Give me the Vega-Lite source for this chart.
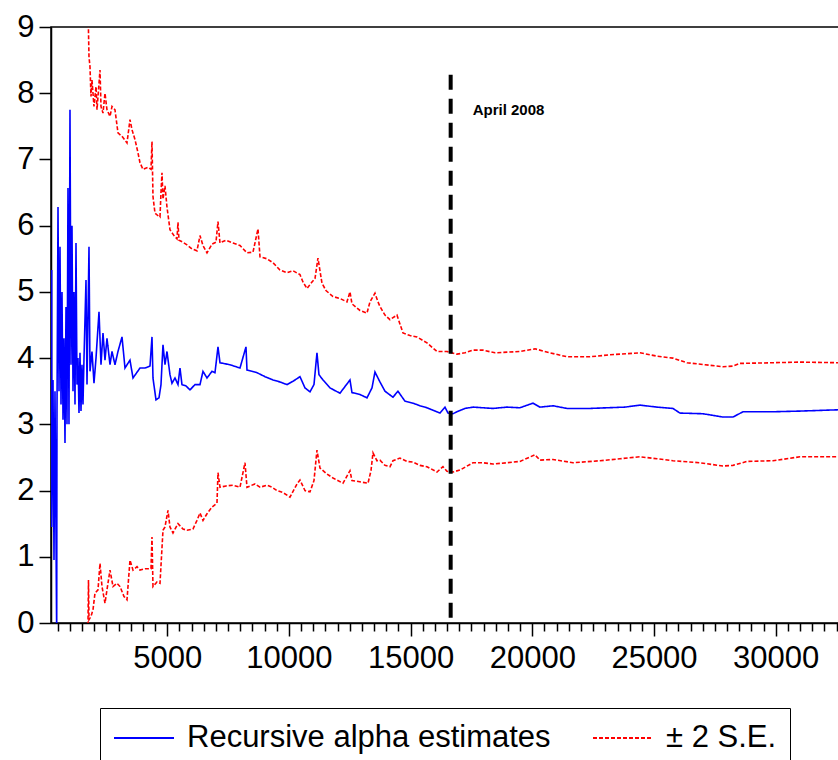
{
  "$schema": "https://vega.github.io/schema/vega-lite/v6.json",
  "width": 788,
  "height": 596,
  "autosize": {"type": "none"},
  "padding": {"left": 51, "top": 27, "right": 0, "bottom": 137},
  "background": "white",
  "datasets": {
    "alpha": [
      {"obs": 255, "value": 5.33}, {"obs": 256, "value": 1.45}, {"obs": 308, "value": 3.67}, {"obs": 349, "value": 0.95},
      {"obs": 390, "value": 3.5}, {"obs": 460, "value": -0.2}, {"obs": 472, "value": 3.2}, {"obs": 514, "value": 6.28},
      {"obs": 555, "value": 3.5}, {"obs": 596, "value": 5.68}, {"obs": 637, "value": 3.3}, {"obs": 678, "value": 5.0},
      {"obs": 719, "value": 3.07}, {"obs": 760, "value": 4.3}, {"obs": 801, "value": 2.72}, {"obs": 842, "value": 4.77},
      {"obs": 883, "value": 3.0}, {"obs": 924, "value": 6.57}, {"obs": 965, "value": 3.0}, {"obs": 1006, "value": 7.75},
      {"obs": 1047, "value": 3.9}, {"obs": 1089, "value": 6.0}, {"obs": 1130, "value": 3.5}, {"obs": 1171, "value": 5.0},
      {"obs": 1212, "value": 3.3}, {"obs": 1253, "value": 5.74}, {"obs": 1294, "value": 3.6}, {"obs": 1335, "value": 4.0},
      {"obs": 1376, "value": 3.17}, {"obs": 1417, "value": 4.08}, {"obs": 1458, "value": 3.2}, {"obs": 1499, "value": 3.9},
      {"obs": 1540, "value": 3.3}, {"obs": 1582, "value": 4.0}, {"obs": 1664, "value": 5.18}, {"obs": 1705, "value": 3.6},
      {"obs": 1787, "value": 5.68}, {"obs": 1828, "value": 3.8}, {"obs": 1910, "value": 4.1}, {"obs": 1992, "value": 3.62},
      {"obs": 2075, "value": 4.0}, {"obs": 2198, "value": 4.7}, {"obs": 2280, "value": 3.9}, {"obs": 2362, "value": 4.38},
      {"obs": 2444, "value": 3.97}, {"obs": 2526, "value": 4.3}, {"obs": 2650, "value": 3.9}, {"obs": 2732, "value": 4.1},
      {"obs": 2855, "value": 3.9}, {"obs": 2978, "value": 4.1}, {"obs": 3143, "value": 4.32}, {"obs": 3266, "value": 3.85},
      {"obs": 3471, "value": 3.97}, {"obs": 3595, "value": 3.7}, {"obs": 3882, "value": 3.85}, {"obs": 4087, "value": 3.85},
      {"obs": 4293, "value": 3.88}, {"obs": 4375, "value": 4.32}, {"obs": 4416, "value": 3.7}, {"obs": 4539, "value": 3.37},
      {"obs": 4663, "value": 3.4}, {"obs": 4745, "value": 3.6}, {"obs": 4827, "value": 4.2}, {"obs": 4909, "value": 3.9},
      {"obs": 4991, "value": 4.1}, {"obs": 5114, "value": 3.75}, {"obs": 5197, "value": 3.62}, {"obs": 5320, "value": 3.7},
      {"obs": 5443, "value": 3.6}, {"obs": 5525, "value": 3.85}, {"obs": 5607, "value": 3.6}, {"obs": 5772, "value": 3.58},
      {"obs": 5936, "value": 3.52}, {"obs": 6141, "value": 3.6}, {"obs": 6347, "value": 3.6}, {"obs": 6470, "value": 3.8},
      {"obs": 6635, "value": 3.7}, {"obs": 6840, "value": 3.8}, {"obs": 6963, "value": 3.78}, {"obs": 7087, "value": 4.17},
      {"obs": 7168, "value": 3.93}, {"obs": 7579, "value": 3.9}, {"obs": 7990, "value": 3.85}, {"obs": 8237, "value": 4.17},
      {"obs": 8278, "value": 3.82}, {"obs": 8689, "value": 3.78}, {"obs": 9017, "value": 3.72}, {"obs": 9346, "value": 3.67},
      {"obs": 9634, "value": 3.64}, {"obs": 9921, "value": 3.6}, {"obs": 10168, "value": 3.65}, {"obs": 10455, "value": 3.72},
      {"obs": 10661, "value": 3.55}, {"obs": 10866, "value": 3.49}, {"obs": 11030, "value": 3.6}, {"obs": 11153, "value": 4.08},
      {"obs": 11235, "value": 3.75}, {"obs": 11400, "value": 3.67}, {"obs": 11687, "value": 3.55}, {"obs": 12098, "value": 3.47},
      {"obs": 12509, "value": 3.67}, {"obs": 12591, "value": 3.48}, {"obs": 12920, "value": 3.45}, {"obs": 13208, "value": 3.4},
      {"obs": 13413, "value": 3.55}, {"obs": 13536, "value": 3.79}, {"obs": 13741, "value": 3.64}, {"obs": 13947, "value": 3.5},
      {"obs": 14275, "value": 3.41}, {"obs": 14480, "value": 3.5}, {"obs": 14768, "value": 3.35}, {"obs": 15097, "value": 3.32},
      {"obs": 15384, "value": 3.28}, {"obs": 15672, "value": 3.25}, {"obs": 16001, "value": 3.2}, {"obs": 16206, "value": 3.17},
      {"obs": 16412, "value": 3.26}, {"obs": 16535, "value": 3.17}, {"obs": 16740, "value": 3.16}, {"obs": 16905, "value": 3.19},
      {"obs": 17234, "value": 3.24}, {"obs": 17562, "value": 3.26}, {"obs": 17973, "value": 3.25}, {"obs": 18384, "value": 3.24},
      {"obs": 18959, "value": 3.26}, {"obs": 19493, "value": 3.25}, {"obs": 20027, "value": 3.32}, {"obs": 20315, "value": 3.26},
      {"obs": 20849, "value": 3.28}, {"obs": 21424, "value": 3.24}, {"obs": 22369, "value": 3.24}, {"obs": 23068, "value": 3.25},
      {"obs": 23807, "value": 3.26}, {"obs": 24423, "value": 3.29}, {"obs": 25122, "value": 3.26}, {"obs": 25779, "value": 3.24},
      {"obs": 26066, "value": 3.17}, {"obs": 27011, "value": 3.16}, {"obs": 27833, "value": 3.11}, {"obs": 28244, "value": 3.11},
      {"obs": 28655, "value": 3.19}, {"obs": 29887, "value": 3.19}, {"obs": 30996, "value": 3.2}, {"obs": 32600, "value": 3.22}
    ],
    "upper": [
      {"obs": 1705, "value": 9.6}, {"obs": 1746, "value": 9.3}, {"obs": 1787, "value": 8.55}, {"obs": 1828, "value": 8.4},
      {"obs": 1869, "value": 7.95}, {"obs": 1910, "value": 8.2}, {"obs": 1992, "value": 7.8}, {"obs": 2075, "value": 8.1},
      {"obs": 2116, "value": 7.75}, {"obs": 2239, "value": 8.35}, {"obs": 2280, "value": 7.8}, {"obs": 2362, "value": 7.7},
      {"obs": 2444, "value": 8.0}, {"obs": 2526, "value": 7.75}, {"obs": 2650, "value": 7.65}, {"obs": 2732, "value": 7.8},
      {"obs": 2855, "value": 7.75}, {"obs": 2978, "value": 7.4}, {"obs": 3143, "value": 7.35}, {"obs": 3348, "value": 7.25},
      {"obs": 3471, "value": 7.6}, {"obs": 3553, "value": 7.45}, {"obs": 3677, "value": 7.3}, {"obs": 3800, "value": 7.1},
      {"obs": 3882, "value": 6.95}, {"obs": 4005, "value": 6.85}, {"obs": 4211, "value": 6.88}, {"obs": 4334, "value": 6.85},
      {"obs": 4375, "value": 7.27}, {"obs": 4416, "value": 6.44}, {"obs": 4498, "value": 6.19}, {"obs": 4622, "value": 6.15},
      {"obs": 4704, "value": 6.13}, {"obs": 4745, "value": 6.5}, {"obs": 4786, "value": 6.8}, {"obs": 4827, "value": 6.4},
      {"obs": 4909, "value": 6.6}, {"obs": 4991, "value": 6.28}, {"obs": 5114, "value": 5.94}, {"obs": 5279, "value": 5.85},
      {"obs": 5402, "value": 5.8}, {"obs": 5443, "value": 6.05}, {"obs": 5484, "value": 5.78}, {"obs": 5649, "value": 5.75},
      {"obs": 5813, "value": 5.71}, {"obs": 6018, "value": 5.65}, {"obs": 6224, "value": 5.62}, {"obs": 6347, "value": 5.85},
      {"obs": 6470, "value": 5.7}, {"obs": 6635, "value": 5.59}, {"obs": 6840, "value": 5.72}, {"obs": 7004, "value": 5.75},
      {"obs": 7087, "value": 6.06}, {"obs": 7168, "value": 5.74}, {"obs": 7415, "value": 5.78}, {"obs": 7702, "value": 5.74},
      {"obs": 7990, "value": 5.7}, {"obs": 8278, "value": 5.59}, {"obs": 8524, "value": 5.6}, {"obs": 8730, "value": 5.95},
      {"obs": 8812, "value": 5.53}, {"obs": 9099, "value": 5.5}, {"obs": 9346, "value": 5.44}, {"obs": 9634, "value": 5.33},
      {"obs": 9921, "value": 5.29}, {"obs": 10168, "value": 5.32}, {"obs": 10455, "value": 5.26}, {"obs": 10578, "value": 5.15},
      {"obs": 10743, "value": 5.05}, {"obs": 10948, "value": 5.15}, {"obs": 11071, "value": 5.2}, {"obs": 11194, "value": 5.51},
      {"obs": 11359, "value": 5.13}, {"obs": 11523, "value": 5.02}, {"obs": 11811, "value": 4.93}, {"obs": 12098, "value": 4.9},
      {"obs": 12386, "value": 4.85}, {"obs": 12509, "value": 5.0}, {"obs": 12591, "value": 4.82}, {"obs": 12920, "value": 4.72},
      {"obs": 13208, "value": 4.68}, {"obs": 13331, "value": 4.85}, {"obs": 13536, "value": 4.98}, {"obs": 13659, "value": 4.85},
      {"obs": 13741, "value": 4.78}, {"obs": 13947, "value": 4.65}, {"obs": 14152, "value": 4.58}, {"obs": 14439, "value": 4.65},
      {"obs": 14686, "value": 4.38}, {"obs": 14974, "value": 4.34}, {"obs": 15261, "value": 4.32}, {"obs": 15672, "value": 4.23},
      {"obs": 16083, "value": 4.1}, {"obs": 16494, "value": 4.1}, {"obs": 16905, "value": 4.06}, {"obs": 17234, "value": 4.08},
      {"obs": 17562, "value": 4.12}, {"obs": 17973, "value": 4.12}, {"obs": 18466, "value": 4.08}, {"obs": 18959, "value": 4.09},
      {"obs": 19493, "value": 4.1}, {"obs": 20109, "value": 4.14}, {"obs": 20726, "value": 4.08}, {"obs": 21424, "value": 4.02},
      {"obs": 22369, "value": 4.02}, {"obs": 23191, "value": 4.05}, {"obs": 24423, "value": 4.08}, {"obs": 25122, "value": 4.03},
      {"obs": 25779, "value": 4.0}, {"obs": 26354, "value": 3.93}, {"obs": 27094, "value": 3.9}, {"obs": 27833, "value": 3.87},
      {"obs": 28244, "value": 3.88}, {"obs": 28531, "value": 3.92}, {"obs": 29887, "value": 3.93}, {"obs": 30996, "value": 3.94},
      {"obs": 32600, "value": 3.93}
    ],
    "lower": [
      {"obs": 1705, "value": -0.4}, {"obs": 1746, "value": 0.0}, {"obs": 1766, "value": 0.65}, {"obs": 1787, "value": 0.05},
      {"obs": 1869, "value": 0.1}, {"obs": 1951, "value": 0.2}, {"obs": 2033, "value": 0.45}, {"obs": 2157, "value": 0.5},
      {"obs": 2239, "value": 0.9}, {"obs": 2321, "value": 0.55}, {"obs": 2444, "value": 0.3}, {"obs": 2567, "value": 0.6},
      {"obs": 2650, "value": 0.8}, {"obs": 2773, "value": 0.55}, {"obs": 2937, "value": 0.6}, {"obs": 3061, "value": 0.55},
      {"obs": 3225, "value": 0.4}, {"obs": 3348, "value": 0.35}, {"obs": 3471, "value": 0.95}, {"obs": 3595, "value": 0.8},
      {"obs": 3759, "value": 0.85}, {"obs": 3882, "value": 0.8}, {"obs": 4087, "value": 0.82}, {"obs": 4334, "value": 0.82},
      {"obs": 4375, "value": 1.3}, {"obs": 4416, "value": 0.55}, {"obs": 4580, "value": 0.62}, {"obs": 4704, "value": 0.6},
      {"obs": 4827, "value": 1.4}, {"obs": 4909, "value": 1.45}, {"obs": 5032, "value": 1.7}, {"obs": 5114, "value": 1.45},
      {"obs": 5238, "value": 1.36}, {"obs": 5443, "value": 1.5}, {"obs": 5649, "value": 1.42}, {"obs": 5813, "value": 1.4},
      {"obs": 6059, "value": 1.42}, {"obs": 6224, "value": 1.55}, {"obs": 6347, "value": 1.66}, {"obs": 6470, "value": 1.55},
      {"obs": 6635, "value": 1.65}, {"obs": 6840, "value": 1.75}, {"obs": 7045, "value": 1.81}, {"obs": 7087, "value": 2.27},
      {"obs": 7168, "value": 2.05}, {"obs": 7415, "value": 2.07}, {"obs": 7702, "value": 2.08}, {"obs": 7990, "value": 2.05},
      {"obs": 8196, "value": 2.42}, {"obs": 8278, "value": 2.05}, {"obs": 8606, "value": 2.1}, {"obs": 8812, "value": 2.05},
      {"obs": 9099, "value": 2.08}, {"obs": 9305, "value": 2.05}, {"obs": 9510, "value": 2.0}, {"obs": 9757, "value": 1.97},
      {"obs": 10044, "value": 1.9}, {"obs": 10332, "value": 2.1}, {"obs": 10455, "value": 2.16}, {"obs": 10661, "value": 2.0},
      {"obs": 10866, "value": 1.98}, {"obs": 11030, "value": 2.15}, {"obs": 11153, "value": 2.61}, {"obs": 11277, "value": 2.34},
      {"obs": 11564, "value": 2.25}, {"obs": 11811, "value": 2.19}, {"obs": 12221, "value": 2.11}, {"obs": 12509, "value": 2.3},
      {"obs": 12591, "value": 2.15}, {"obs": 12797, "value": 2.14}, {"obs": 13249, "value": 2.11}, {"obs": 13372, "value": 2.3},
      {"obs": 13454, "value": 2.57}, {"obs": 13618, "value": 2.45}, {"obs": 13741, "value": 2.46}, {"obs": 13947, "value": 2.38},
      {"obs": 14152, "value": 2.36}, {"obs": 14275, "value": 2.45}, {"obs": 14563, "value": 2.49}, {"obs": 14850, "value": 2.44},
      {"obs": 15097, "value": 2.43}, {"obs": 15384, "value": 2.38}, {"obs": 15672, "value": 2.36}, {"obs": 16083, "value": 2.28},
      {"obs": 16329, "value": 2.36}, {"obs": 16494, "value": 2.29}, {"obs": 16740, "value": 2.28}, {"obs": 17028, "value": 2.31},
      {"obs": 17562, "value": 2.42}, {"obs": 17973, "value": 2.42}, {"obs": 18384, "value": 2.4}, {"obs": 18959, "value": 2.42},
      {"obs": 19493, "value": 2.44}, {"obs": 20109, "value": 2.54}, {"obs": 20315, "value": 2.46}, {"obs": 20849, "value": 2.47},
      {"obs": 21671, "value": 2.42}, {"obs": 22780, "value": 2.45}, {"obs": 23602, "value": 2.48}, {"obs": 24423, "value": 2.51},
      {"obs": 25122, "value": 2.48}, {"obs": 25779, "value": 2.45}, {"obs": 26888, "value": 2.42}, {"obs": 27833, "value": 2.37},
      {"obs": 28244, "value": 2.38}, {"obs": 28819, "value": 2.44}, {"obs": 29887, "value": 2.45}, {"obs": 30996, "value": 2.51},
      {"obs": 32600, "value": 2.51}
    ],
    "events": [
      {"obs": 16646, "value": 8.28, "label": "April 2008"}
    ]
  },
  "encoding": {
    "x": {
      "field": "obs",
      "type": "quantitative",
      "scale": {"domain": [226, 32600], "nice": false, "zero": false},
      "axis": {
        "title": null,
        "values": [500, 1000, 1500, 2000, 2500, 3000, 3500, 4000, 4500, 5000, 5500, 6000, 6500, 7000, 7500, 8000, 8500, 9000, 9500, 10000,
                   10500, 11000, 11500, 12000, 12500, 13000, 13500, 14000, 14500, 15000, 15500, 16000, 16500, 17000, 17500, 18000, 18500, 19000, 19500, 20000,
                   20500, 21000, 21500, 22000, 22500, 23000, 23500, 24000, 24500, 25000, 25500, 26000, 26500, 27000, 27500, 28000, 28500, 29000, 29500, 30000,
                   30500, 31000, 31500, 32000, 32500],
        "format": "d",
        "labelExpr": "datum.value % 5000 === 0 ? datum.label : ''",
        "tickSize": {"condition": {"test": "datum.value % 5000 === 0", "value": 13}, "value": 8},
        "labelPadding": 7,
        "labelOverlap": false,
        "labelFlush": false
      }
    },
    "y": {
      "field": "value",
      "type": "quantitative",
      "scale": {"domain": [0, 9], "nice": false},
      "axis": {
        "title": null,
        "values": [0, 1, 2, 3, 4, 5, 6, 7, 8, 9],
        "tickSize": 12,
        "labelPadding": 5
      }
    }
  },
  "layer": [
    {
      "data": {"name": "alpha"},
      "mark": {"type": "line", "clip": true, "strokeWidth": 1.6},
      "encoding": {
        "color": {"datum": "Recursive alpha estimates"},
        "strokeDash": {"datum": "Recursive alpha estimates"}
      }
    },
    {
      "data": {"name": "upper"},
      "mark": {"type": "line", "clip": true, "strokeWidth": 1.6},
      "encoding": {
        "color": {"datum": "± 2 S.E."},
        "strokeDash": {"datum": "± 2 S.E."}
      }
    },
    {
      "data": {"name": "lower"},
      "mark": {"type": "line", "clip": true, "strokeWidth": 1.6},
      "encoding": {
        "color": {"datum": "± 2 S.E."},
        "strokeDash": {"datum": "± 2 S.E."}
      }
    },
    {
      "data": {"name": "events"},
      "mark": {"type": "rule", "color": "black", "strokeWidth": 4, "strokeDash": [15, 9]},
      "encoding": {
        "y2": {"datum": 0}
      }
    },
    {
      "data": {"name": "events"},
      "mark": {"type": "text", "align": "left", "baseline": "middle", "dx": 22, "dy": 35, "font": "Liberation Sans", "fontWeight": "bold", "fontSize": 15, "color": "black"},
      "encoding": {
        "text": {"field": "label"}
      }
    }
  ],
  "config": {
    "view": {"stroke": "black", "strokeWidth": 1.5},
    "axis": {
      "grid": false,
      "domainColor": "black",
      "domainWidth": 1.5,
      "tickColor": "black",
      "tickWidth": 1.5,
      "labelColor": "black",
      "labelFont": "Liberation Sans",
      "labelFontSize": 31
    },
    "range": {
      "category": ["#0000ff", "#ff0000"],
      "strokeDash": [[1, 0], [9, 4]]
    },
    "legend": {
      "orient": "none",
      "legendX": 49,
      "legendY": 681,
      "direction": "horizontal",
      "columns": 2,
      "title": null,
      "strokeColor": "black",
      "padding": 13,
      "clipHeight": 34,
      "symbolType": "stroke",
      "symbolSize": 3600,
      "symbolStrokeWidth": 2,
      "labelFont": "Liberation Sans",
      "labelFontSize": 31,
      "labelColor": "black",
      "labelOffset": 12,
      "labelLimit": 0,
      "columnPadding": 41
    }
  }
}
